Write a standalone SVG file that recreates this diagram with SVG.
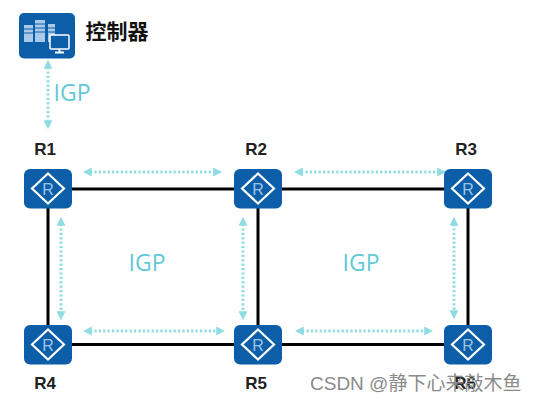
<svg xmlns="http://www.w3.org/2000/svg" xmlns:xlink="http://www.w3.org/1999/xlink" width="537" height="402" viewBox="0 0 537 402">
<style>
.box{fill:#0c5ea8}
.link{stroke:#000;stroke-width:3;fill:none}
.igp{stroke:#8fdde3;stroke-width:3;stroke-dasharray:2.2 2.2;fill:none;marker-start:url(#ah);marker-end:url(#ah)}
.lbl{font:bold 17px "Liberation Sans","Noto Sans",sans-serif;fill:#222;text-anchor:middle}
.big{font:23px "Open Sans","Liberation Sans",sans-serif;fill:#5fc9d6;text-anchor:middle}
</style>
<defs>
<marker id="ah" viewBox="0 0 10 10" refX="2" refY="5" markerUnits="userSpaceOnUse" markerWidth="9" markerHeight="9" orient="auto-start-reverse"><path d="M10 0 L10 10 L0 5 Z" fill="#8fdde3" transform="rotate(180 5 5)"/></marker>
<g id="router">
<rect class="box" x="-24" y="-20" width="48" height="39.5" rx="6"/>
<path d="M0 -15.500 L16 -0.500 L0 14.500 L-16 -0.500 Z" fill="none" stroke="#fff" stroke-width="2.200"/>
<text x="0" y="5.500" font-family="'Liberation Sans',sans-serif" font-size="16" fill="#9cc4e8" text-anchor="middle">R</text>
</g>
</defs>
<rect width="537" height="402" fill="#fff"/>
<g id="connectors">
<path class="link" d="M48 189H468M48 344.500H468M48 189V344.500M258 189V344.500M468 189V344.500"/>
<path class="igp" d="M48 67V122"/>
<path class="igp" d="M90 172H215"/>
<path class="igp" d="M301 172H439"/>
<path class="igp" d="M90 331H218"/>
<path class="igp" d="M302 331H426"/>
<path class="igp" d="M61 224V313"/>
<path class="igp" d="M243 224V313"/>
<path class="igp" d="M454 224V312"/>
</g>
<g id="controller">
<rect class="box" x="19" y="13" width="56" height="45.500" rx="5"/>
<g fill="#a9c9e8"><rect x="24" y="25" width="9" height="17"/><rect x="35" y="20" width="10" height="22"/><rect x="48" y="24" width="7" height="18"/></g>
<g stroke="#0c5ea8" stroke-width="1"><path d="M24 29h9M24 33h9M35 24h10M35 28h10M35 32h10M48 28h7M48 32h7"/></g>
<rect x="50" y="35" width="19" height="14" rx="1" fill="#0c5ea8" stroke="#fff" stroke-width="1.500"/>
<path d="M59.500 49v2.500M55 52.500h9" stroke="#fff" stroke-width="2" fill="none"/>
<text x="117" y="39" font-family="'Noto Sans CJK SC',sans-serif" font-weight="700" font-size="21" fill="#111" text-anchor="middle">控制器</text>
</g>
<g id="R1"><use xlink:href="#router" href="#router" x="48" y="189"/><text class="lbl" x="45" y="155">R1</text></g>
<g id="R2"><use xlink:href="#router" href="#router" x="258" y="189"/><text class="lbl" x="256" y="155">R2</text></g>
<g id="R3"><use xlink:href="#router" href="#router" x="468" y="189"/><text class="lbl" x="466" y="155">R3</text></g>
<g id="R4"><use xlink:href="#router" href="#router" x="48" y="345"/><text class="lbl" x="45" y="389">R4</text></g>
<g id="R5"><use xlink:href="#router" href="#router" x="258" y="345"/><text class="lbl" x="256" y="389">R5</text></g>
<g id="R6"><use xlink:href="#router" href="#router" x="468" y="345"/><text class="lbl" x="465" y="389">R6</text></g>
<text class="big" x="72" y="101">IGP</text>
<text class="big" x="147" y="271">IGP</text>
<text class="big" x="361" y="271">IGP</text>
<text x="310" y="390" font-family="'Liberation Sans','Noto Sans CJK SC',sans-serif" font-size="19" fill="#8a8a8a">CSDN @静下心来敲木鱼</text>
</svg>
